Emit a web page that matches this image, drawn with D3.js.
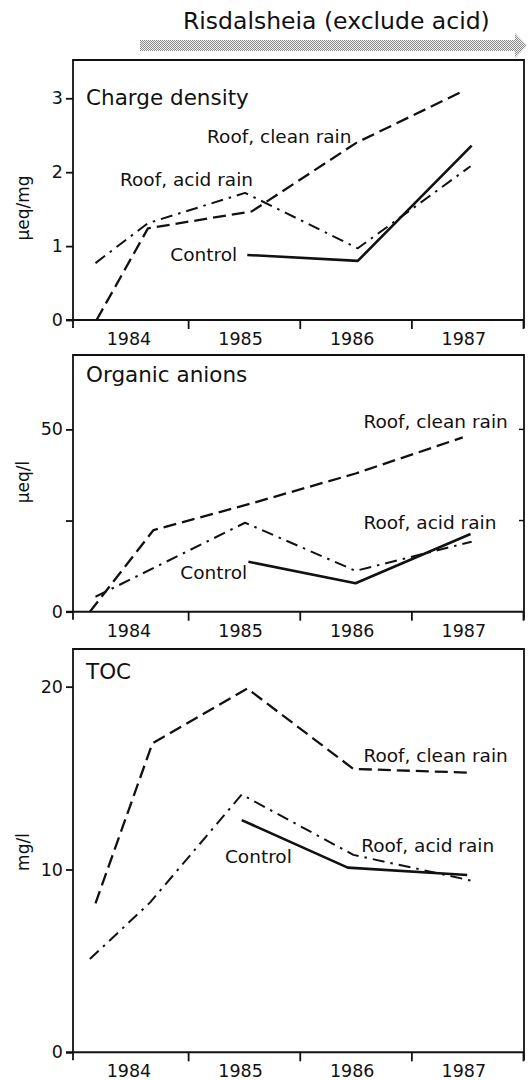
<!DOCTYPE html>
<html>
<head>
<meta charset="utf-8">
<script src="https://cdn.jsdelivr.net/npm/d3@7"></script>
<style>
body { margin: 0; background: #fff; }
svg { display: block; font-family: "DejaVu Sans", sans-serif; }
</style>
</head>
<body>
<div id="vis"></div>
<script>
const WIDTH = 528;
const HEIGHT = 1080;

// datos (tiempo en años decimales)
const year_labels = ["1984", "1985", "1986", "1987"];
const year_ticks = [1985, 1986, 1987, 1988];

// Charge density, µeq/mg
const cd_clean_t = [1984.18, 1984.64, 1985.57, 1986.51, 1987.48];
const cd_clean = [0, 1.24, 1.47, 2.40, 3.11];
const cd_acid_t = [1984.17, 1984.64, 1985.51, 1986.52, 1987.53];
const cd_acid = [0.77, 1.31, 1.72, 0.97, 2.08];
const cd_control_t = [1985.53, 1986.52, 1987.54];
const cd_control = [0.88, 0.80, 2.36];

// Organic anions, µeq/l
const oa_clean_t = [1984.12, 1984.69, 1985.51, 1986.50, 1987.46];
const oa_clean = [0, 22.4, 29.2, 37.9, 47.8];
const oa_acid_t = [1984.17, 1985.51, 1986.50, 1987.54];
const oa_acid = [4.1, 24.4, 11.2, 19.2];
const oa_control_t = [1985.54, 1986.50, 1987.53];
const oa_control = [13.7, 7.8, 21.3];

// TOC, mg/l
const toc_clean_t = [1984.17, 1984.68, 1985.53, 1986.48, 1987.50];
const toc_clean = [8.15, 16.9, 19.9, 15.5, 15.3];
const toc_acid_t = [1984.12, 1984.66, 1985.48, 1986.48, 1987.53];
const toc_acid = [5.1, 8.2, 14.1, 10.8, 9.4];
const toc_control_t = [1985.48, 1986.43, 1987.50];
const toc_control = [12.7, 10.1, 9.7];

const cd_ticks = [0, 1, 2, 3];
const oa_ticks = [0, 25, 50];
const toc_ticks = [0, 10, 20];

const SVG = d3.select("#vis").append("svg")
    .attr("width", WIDTH)
    .attr("height", HEIGHT);

const LEFT = 73;
const RIGHT = 524;

const escala_x = d3.scaleLinear()
    .domain([1984, 1988])
    .range([76.5, 523]);

const estilos = {
    clean: { dash: "13,6", width: 2.3 },
    acid: { dash: "12,6,2.5,6", width: 2 },
    control: { dash: null, width: 2.6 }
};

// titulo y flecha
SVG.append("text")
    .attr("x", 183)
    .attr("y", 29)
    .attr("font-size", 23.5)
    .attr("fill", "#111")
    .text("Risdalsheia (exclude acid)");

const defs = SVG.append("defs");
const patron = defs.append("pattern")
    .attr("id", "puntos")
    .attr("width", 2)
    .attr("height", 2)
    .attr("patternUnits", "userSpaceOnUse");
patron.append("rect").attr("width", 2).attr("height", 2).attr("fill", "#f2f2f2");
patron.append("rect").attr("x", 0).attr("y", 0).attr("width", 1).attr("height", 1).attr("fill", "#8a8a8a");
patron.append("rect").attr("x", 1).attr("y", 1).attr("width", 1).attr("height", 1).attr("fill", "#8a8a8a");

SVG.append("path")
    .attr("d", "M140,40 L515,40 L515,33 L527,45.5 L515,58 L515,51 L140,51 Z")
    .attr("fill", "url(#puntos)");

const paneles = [
    {
        titulo: "Charge density", unidad: "µeq/mg",
        top: 60, bottom: 320, max: 3.518, tituloY: 45,
        ticks: cd_ticks, etiquetas: cd_ticks, tickDerecha: [],
        series: [
            { t: cd_clean_t, v: cd_clean, tipo: "clean" },
            { t: cd_acid_t, v: cd_acid, tipo: "acid" },
            { t: cd_control_t, v: cd_control, tipo: "control" }
        ],
        notas: [
            { texto: "Roof, clean rain", t: 1985.17, v: 2.40 },
            { texto: "Roof, acid rain", t: 1984.39, v: 1.81 },
            { texto: "Control", t: 1984.84, v: 0.80 }
        ]
    },
    {
        titulo: "Organic anions", unidad: "µeq/l",
        top: 355, bottom: 611.7, max: 70.4, tituloY: 27,
        ticks: oa_ticks, etiquetas: [0, 50], tickDerecha: [25, 50],
        series: [
            { t: oa_clean_t, v: oa_clean, tipo: "clean" },
            { t: oa_acid_t, v: oa_acid, tipo: "acid" },
            { t: oa_control_t, v: oa_control, tipo: "control" }
        ],
        notas: [
            { texto: "Roof, clean rain", t: 1986.57, v: 50.4 },
            { texto: "Roof, acid rain", t: 1986.57, v: 22.7 },
            { texto: "Control", t: 1984.93, v: 9.0 }
        ]
    },
    {
        titulo: "TOC", unidad: "mg/l",
        top: 649, bottom: 1052.3, max: 22.06, tituloY: 30,
        ticks: toc_ticks, etiquetas: toc_ticks, tickDerecha: [],
        series: [
            { t: toc_clean_t, v: toc_clean, tipo: "clean" },
            { t: toc_acid_t, v: toc_acid, tipo: "acid" },
            { t: toc_control_t, v: toc_control, tipo: "control" }
        ],
        notas: [
            { texto: "Roof, clean rain", t: 1986.57, v: 15.88 },
            { texto: "Roof, acid rain", t: 1986.55, v: 10.96 },
            { texto: "Control", t: 1985.33, v: 10.34 }
        ]
    }
];

paneles.forEach(dibujar_panel);

function dibujar_panel(p) {
    const g = SVG.append("g");

    const escala_y = d3.scaleLinear()
        .domain([0, p.max])
        .range([p.bottom, p.top]);

    // marco
    g.append("path")
        .attr("d", `M${LEFT},${p.bottom + 8} L${LEFT},${p.top} L${RIGHT},${p.top} L${RIGHT},${p.bottom + 8}`)
        .attr("fill", "none")
        .attr("stroke", "#111")
        .attr("stroke-width", 1.8);

    // eje x
    const eje_x = d3.axisBottom(escala_x)
        .tickValues(year_ticks)
        .tickSize(9)
        .tickFormat("");
    const gx = g.append("g")
        .attr("transform", `translate(0,${p.bottom})`)
        .call(eje_x);
    gx.select(".domain").remove();
    gx.selectAll(".tick line").attr("stroke", "#111").attr("stroke-width", 1.8);
    g.append("line")
        .attr("x1", LEFT - 7).attr("x2", RIGHT)
        .attr("y1", p.bottom).attr("y2", p.bottom)
        .attr("stroke", "#111").attr("stroke-width", 2);

    g.selectAll(".year")
        .data(year_labels)
        .join("text")
        .attr("x", d => escala_x(+d + 0.47))
        .attr("y", p.bottom + 25)
        .attr("text-anchor", "middle")
        .attr("font-size", 17.5)
        .attr("fill", "#111")
        .text(d => d);

    // eje y
    const eje_y = d3.axisLeft(escala_y)
        .tickValues(p.ticks)
        .tickSize(7)
        .tickPadding(3)
        .tickFormat(d => p.etiquetas.includes(d) ? d : "");
    const gy = g.append("g")
        .attr("transform", `translate(${LEFT},0)`)
        .call(eje_y);
    gy.select(".domain").remove();
    gy.selectAll(".tick line").attr("stroke", "#111").attr("stroke-width", 1.8);
    gy.selectAll(".tick text")
        .attr("font-family", "DejaVu Sans")
        .attr("font-size", 17.5)
        .attr("fill", "#111");

    g.selectAll(".tickder")
        .data(p.tickDerecha)
        .join("line")
        .attr("x1", RIGHT - 5).attr("x2", RIGHT)
        .attr("y1", d => escala_y(d)).attr("y2", d => escala_y(d))
        .attr("stroke", "#111").attr("stroke-width", 1.5);

    // unidad
    const cy = p.unidad === "µeq/mg" ? 208 : (p.unidad === "µeq/l" ? 482 : 852);
    g.append("text")
        .attr("transform", `translate(29,${cy}) rotate(-90)`)
        .attr("text-anchor", "middle")
        .attr("font-size", 17)
        .attr("fill", "#111")
        .text(p.unidad);

    // titulo del panel
    g.append("text")
        .attr("x", 86)
        .attr("y", p.top + p.tituloY)
        .attr("font-size", 21.5)
        .attr("fill", "#111")
        .text(p.titulo);

    // lineas
    const linea = d3.line()
        .x(d => escala_x(d[0]))
        .y(d => escala_y(d[1]));

    p.series.forEach(s => {
        const puntos = s.t.map((t, i) => [t, s.v[i]]);
        g.append("path")
            .datum(puntos)
            .attr("d", linea)
            .attr("fill", "none")
            .attr("stroke", "#111")
            .attr("stroke-width", estilos[s.tipo].width)
            .attr("stroke-dasharray", estilos[s.tipo].dash)
            .attr("stroke-linejoin", "round");
    });

    // etiquetas de series
    g.selectAll(".nota")
        .data(p.notas)
        .join("text")
        .attr("x", d => escala_x(d.t))
        .attr("y", d => escala_y(d.v))
        .attr("font-size", 18.5)
        .attr("fill", "#111")
        .text(d => d.texto);
}
</script>
</body>
</html>
